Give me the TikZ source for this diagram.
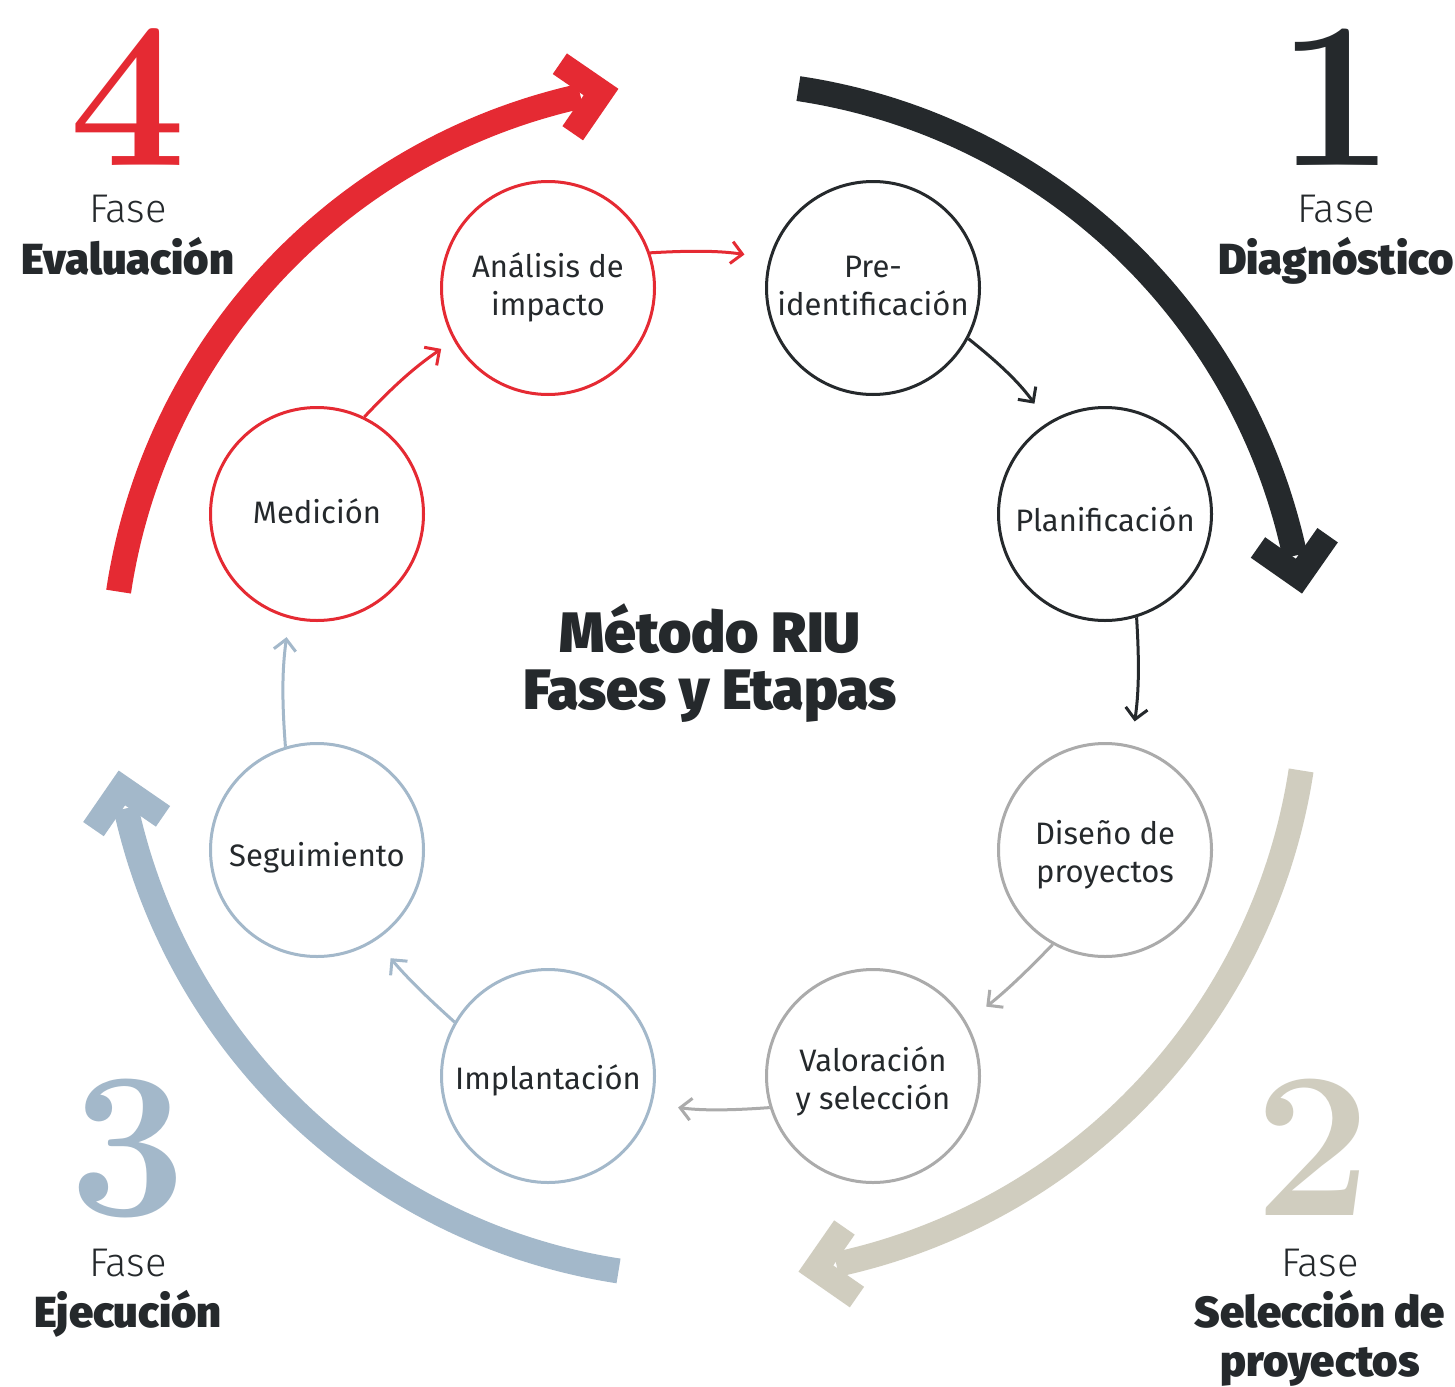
\documentclass[tikz,border=0pt]{standalone}
\usepackage{fontspec}
\usetikzlibrary{arrows.meta}
\newfontfamily\fira{Fira Sans}
\IfFontExistsTF{Fira Sans Black}{\newfontfamily\firaheavy{Fira Sans Black}}{\newcommand\firaheavy{\fira\bfseries}}
\IfFontExistsTF{Fira Sans Light}{\newfontfamily\firalight{Fira Sans Light}}{\newcommand\firalight{\fira}}
\definecolor{cred}{HTML}{E52A33}
\definecolor{cdark}{HTML}{25292C}
\definecolor{cbeige}{HTML}{D0CDBF}
\definecolor{cblue}{HTML}{A3B8CA}
\definecolor{cgray}{HTML}{ABABAB}
\newcommand\bigarrow[4]{%
  \draw[#1, line width=25pt, line cap=butt] plot[domain=#2:#3, samples=90] ({710+598*cos(\x)},{680+598*sin(\x)});
  \draw[#1, line width=25pt, line cap=butt, line join=miter]
    ({710+598*cos(#4)+50*cos(#4-45)},{680+598*sin(#4)+50*sin(#4-45)}) --
    ({710+598*cos(#4)},{680+598*sin(#4)}) --
    ({710+598*cos(#4)+50*cos(#4-135)},{680+598*sin(#4)+50*sin(#4-135)});
}
\begin{document}
\begin{tikzpicture}[x=1pt,y=-1pt,
  stage/.style={circle, draw=#1, line width=3pt, minimum size=213pt, inner sep=0pt, fill=white},
  stagetext/.style={align=center, inner sep=0pt, font=\fira\fontsize{31}{38}\selectfont, text=cdark},
  link/.style={draw=#1, line width=3pt, -{Straight Barb[length=11pt,width=22pt]}},
  fase/.style={font=\firalight\fontsize{40}{40}\selectfont, text=cdark, anchor=base, inner sep=0pt, text height=29pt, text depth=0pt},
  fasename/.style={font=\firaheavy\fontsize{43.5}{50}\selectfont, text=cdark, anchor=base, inner sep=0pt},
  bignum/.style={font=\fontsize{208}{208}\selectfont\bfseries, text=#1, anchor=base, inner sep=0pt, text height=138pt, text depth=0pt},
  title/.style={font=\firaheavy\fontsize{57}{57}\selectfont, text=cdark, anchor=base, inner sep=0pt},
]
\fill[white] (0,0) rectangle (1455,1386);
\useasboundingbox (0,0) rectangle (1455,1386);

% big phase arrows
\bigarrow{cred}{188.5}{257.5}{259.5}
\bigarrow{cdark}{278.5}{348}{350}
\bigarrow{cbeige}{8.7}{77.8}{79.8}
\bigarrow{cblue}{98.8}{167.6}{169.6}

% stages
\node[stage=cred]  (ana) at (548,288)  {};
\node[stage=cdark] (pre) at (873,288)  {};
\node[stage=cdark] (pla) at (1105,514) {};
\node[stage=cgray] (dis) at (1105,850) {};
\node[stage=cgray] (val) at (873,1076) {};
\node[stage=cblue] (imp) at (548,1076) {};
\node[stage=cblue] (seg) at (317,850)  {};
\node[stage=cred]  (med) at (317,514)  {};

\node[stagetext] (anat) at (548,287)  {Análisis de\\impacto};
\node[stagetext] (pret) at (873,286)  {Pre-\\identificación};
\node[stagetext] (plat) at (1105,519) {Planificación};
\node[stagetext] (dist) at (1105,855) {Diseño de\\proyectos};
\node[stagetext] (valt) at (873,1081) {Valoración\\y selección};
\node[stagetext] (impt) at (548,1080) {Implantación};
\node[stagetext] (segt) at (317,858)  {Seguimiento};
\node[stagetext] (medt) at (317,511)  {Medición};

% connectors
\draw[link=cred, shorten >=25pt]  (ana.19)  to[bend left=6] (pre.164);
\draw[link=cdark, shorten >=23pt] (pre.-28) to[bend left=8] (pla.122);
\draw[link=cdark, shorten >=24pt] (pla.-73) to[bend left=6] (dis.76);
\draw[link=cgray, shorten >=25pt] (dis.-119) to[bend left=4] (val.30);
\draw[link=cgray, shorten >=26pt] (val.197) to[bend left=6] (imp.-15);
\draw[link=cblue, shorten >=23pt] (imp.150) to[bend left=4] (seg.-57);
\draw[link=cblue, shorten >=19pt] (seg.107) to[bend left=6] (med.-105);
\draw[link=cred, shorten >=15pt]  (med.64)  to[bend left=6] (ana.209);

% title
\node[title] (t1) at (710,652) {Método RIU};
\node[title] (t2) at (710,709) {Fases y Etapas};

% phase numbers and labels
\node[bignum=cred]   (n4) at (128,165)  {4};
\node[bignum=cdark]  (n1) at (1336,165) {1};
\node[bignum=cblue]  (n3) at (128,1215) {3};
\node[bignum=cbeige] (n2) at (1313,1215) {2};

\node[fase] (f4) at (128,222)  {Fase};
\node[fasename] (l4) at (128,274) {Evaluación};
\node[fase] (f1) at (1336,222) {Fase};
\node[fasename] (l1) at (1336,274) {Diagnóstico};
\node[fase] (f3) at (128,1276) {Fase};
\node[fasename] (l3) at (128,1327) {Ejecución};
\node[fase] (f2) at (1320,1276) {Fase};
\node[fasename] (l2a) at (1320,1327) {Selección de};
\node[fasename] (l2b) at (1320,1376) {proyectos};
\end{tikzpicture}
\end{document}
